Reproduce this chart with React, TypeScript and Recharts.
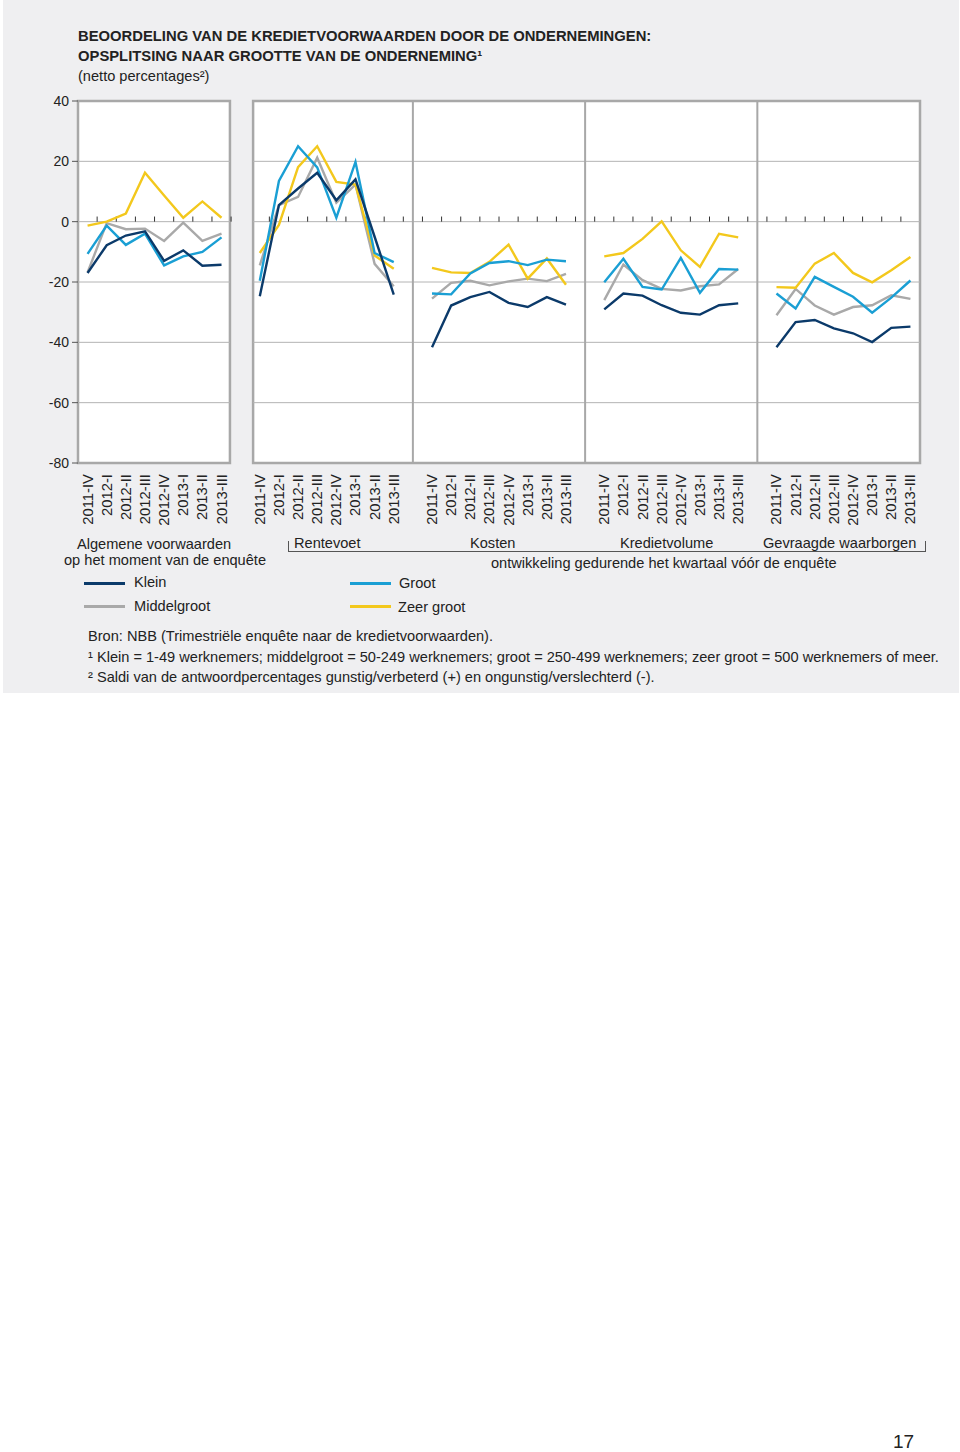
import React from 'react';
import { LineChart, Line, XAxis, YAxis, ReferenceLine, ReferenceArea } from 'recharts';

const quarters = ['2011-IV', '2012-I', '2012-II', '2012-III', '2012-IV', '2013-I', '2013-II', '2013-III'];
const panels = ['Algemene voorwaarden', 'Rentevoet', 'Kosten', 'Kredietvolume', 'Gevraagde waarborgen'];

// one row of 8 quarters per panel
const klein = [
  [-17, -7.8, -4.6, -3.2, -13, -9.5, -14.6, -14.3],
  [-24.7, 5.5, 11, 16.2, 7.1, 14, -5, -24.2],
  [-41.6, -27.8, -25, -23.3, -26.9, -28.3, -25, -27.5],
  [-29.1, -23.8, -24.5, -27.7, -30.2, -30.8, -27.7, -27.1],
  [-41.6, -33.3, -32.6, -35.4, -37, -39.9, -35.2, -34.8],
];
const middelgroot = [
  [-16.8, -0.5, -2.5, -2.3, -6.4, -0.3, -6.4, -4],
  [-14.5, 5.5, 8.2, 21.2, 6.3, 12.3, -14, -21.4],
  [-25.5, -20.3, -19.6, -21.1, -19.8, -18.9, -19.7, -17.3],
  [-26, -14.2, -19.4, -22.3, -22.8, -21.4, -20.8, -15.7],
  [-31, -22.3, -27.8, -30.8, -28.3, -27.7, -24.4, -25.6],
];
const groot = [
  [-10.7, -1.3, -7.7, -4, -14.5, -11.5, -10, -5.2],
  [-19.6, 13.5, 25, 18, 1.3, 19.8, -10.4, -13.4],
  [-23.8, -24.1, -17.2, -13.7, -13.1, -14.4, -12.6, -13.1],
  [-20.1, -12.3, -21.6, -22.5, -12, -23.6, -15.7, -15.9],
  [-23.8, -28.8, -18.3, -21.6, -24.9, -30.2, -25.2, -19.5],
];
const zeerGroot = [
  [-1.3, 0, 2.7, 16.2, 8.7, 1.3, 6.7, 1.3],
  [-10.4, -1.1, 18.1, 25, 13.2, 12.3, -11.2, -15.6],
  [-15.3, -16.8, -17, -13.3, -7.6, -18.9, -12.2, -20.9],
  [-11.5, -10.4, -5.7, 0.1, -9.5, -15, -4, -5.2],
  [-21.7, -21.9, -13.9, -10.4, -17, -20.1, -16.1, -11.7],
];

const yTicks = [-80, -60, -40, -20, 0, 20, 40];
const gridValues = [-60, -40, -20, 0, 20];

const C_KLEIN = '#0b3a6a';
const C_MIDDEL = '#a9a9a9';
const C_GROOT = '#1a9fd4';
const C_ZEER = '#f3c81c';
const BORDER = '#a8a8a8';
const GRID = '#b4b4b4';
const BG = '#efeff1';
const FONT = '"Liberation Sans", Arial, Helvetica, sans-serif';

// 8 quarters per panel with an empty slot between panels
const data: any[] = [];
panels.forEach((_, p) => {
  quarters.forEach((q, i) => {
    data.push({ x: p * 9 + i, q, klein: klein[p][i], middel: middelgroot[p][i], groot: groot[p][i], zeer: zeerGroot[p][i] });
  });
  if (p < panels.length - 1) data.push({ x: p * 9 + 8, q: '', klein: null, middel: null, groot: null, zeer: null });
});
const catTicks = data.filter(d => d.q).map(d => d.x);
const boundaryTicks = data.slice(0, -1).map(d => d.x + 0.5).filter(v => v !== 8.5);
const dividers = [17, 26, 35];
const P1 = [-0.5, 7.44];
const P2 = [8.65, 43.5];

const QuarterTick = ({ x, y, payload }: any) => {
  const row = data.find(d => d.x === payload.value);
  const tx = x + 5;
  const ty = y + 11;
  return (
    <text x={tx} y={ty} transform={`rotate(-90 ${tx} ${ty})`} textAnchor="end" fontSize={14.8} fill="#222" fontFamily={FONT}>
      {row?.q}
    </text>
  );
};

const Txt = ({ left, top, children, style }: any) => (
  <div style={{ position: 'absolute', left, top, whiteSpace: 'nowrap', lineHeight: '18px', fontSize: 14.6, color: '#222', fontFamily: FONT, ...style }}>
    {children}
  </div>
);

const Swatch = ({ left, top, color }: any) => (
  <div style={{ position: 'absolute', left, top, width: 41, height: 3, background: color }} />
);

export default function App() {
  return (
    <div style={{ position: 'absolute', left: 0, top: 0, width: 960, height: 1452, background: '#fff', fontFamily: FONT }}>
      <div style={{ position: 'absolute', left: 3, top: 0, width: 956, height: 693, background: BG }} />

      <Txt left={78} top={27} style={{ fontWeight: 'bold', fontSize: 14.8 }}>BEOORDELING VAN DE KREDIETVOORWAARDEN DOOR DE ONDERNEMINGEN:</Txt>
      <Txt left={78} top={47} style={{ fontWeight: 'bold', fontSize: 14.8 }}>OPSPLITSING NAAR GROOTTE VAN DE ONDERNEMING¹</Txt>
      <Txt left={78} top={67}>(netto percentages²)</Txt>

      <div style={{ position: 'absolute', left: 0, top: 0 }}>
        <LineChart width={960} height={540} data={data} margin={{ top: 101, right: 40, left: 38, bottom: 7 }} style={{ fontFamily: FONT }}>
          <XAxis dataKey="x" type="number" domain={[-0.5, 43.5]} ticks={catTicks} interval={0} axisLine={false} tickLine={false}
            tickSize={0} tickMargin={0} height={70} tick={<QuarterTick />} allowDataOverflow />
          <YAxis type="number" domain={[-80, 40]} ticks={yTicks} width={40} axisLine={false} tickSize={6} tickMargin={3}
            tickLine={{ stroke: '#555' }} tick={{ fill: '#222', fontSize: 14 }} allowDataOverflow />

          <ReferenceArea x1={P1[0]} x2={P1[1]} y1={-80} y2={40} fill="#fff" fillOpacity={1} stroke="none" />
          <ReferenceArea x1={P2[0]} x2={P2[1]} y1={-80} y2={40} fill="#fff" fillOpacity={1} stroke="none" />

          {gridValues.map(v => (
            <ReferenceLine key={`g1-${v}`} segment={[{ x: P1[0], y: v }, { x: P1[1], y: v }]} stroke={GRID} strokeWidth={1} />
          ))}
          {gridValues.map(v => (
            <ReferenceLine key={`g2-${v}`} segment={[{ x: P2[0], y: v }, { x: P2[1], y: v }]} stroke={GRID} strokeWidth={1} />
          ))}
          {boundaryTicks.map(v => (
            <ReferenceLine key={`t-${v}`} segment={[{ x: v, y: 0 }, { x: v, y: 1.7 }]} stroke="#333" strokeWidth={1} />
          ))}
          {dividers.map(v => (
            <ReferenceLine key={`d-${v}`} x={v} stroke={BORDER} strokeWidth={2} />
          ))}

          <Line dataKey="middel" stroke={C_MIDDEL} strokeWidth={2.4} dot={false} connectNulls={false} isAnimationActive={false} />
          <Line dataKey="zeer" stroke={C_ZEER} strokeWidth={2.4} dot={false} connectNulls={false} isAnimationActive={false} />
          <Line dataKey="groot" stroke={C_GROOT} strokeWidth={2.4} dot={false} connectNulls={false} isAnimationActive={false} />
          <Line dataKey="klein" stroke={C_KLEIN} strokeWidth={2.4} dot={false} connectNulls={false} isAnimationActive={false} />

          <ReferenceArea x1={P1[0]} x2={P1[1]} y1={-80} y2={40} fill="none" stroke={BORDER} strokeWidth={2.5} />
          <ReferenceArea x1={P2[0]} x2={P2[1]} y1={-80} y2={40} fill="none" stroke={BORDER} strokeWidth={2.5} />
        </LineChart>
      </div>

      {/* column headers under the panels */}
      <Txt left={77} top={535}>{panels[0]}</Txt>
      <Txt left={64} top={551}>op het moment van de enquête</Txt>
      <div style={{ position: 'absolute', left: 288, top: 551, width: 638, height: 1, background: '#555' }} />
      <div style={{ position: 'absolute', left: 288, top: 541, width: 1, height: 11, background: '#555' }} />
      <div style={{ position: 'absolute', left: 925, top: 541, width: 1, height: 11, background: '#555' }} />
      <Txt left={294} top={534}>{panels[1]}</Txt>
      <Txt left={470} top={534}>{panels[2]}</Txt>
      <Txt left={620} top={534}>{panels[3]}</Txt>
      <Txt left={763} top={534}>{panels[4]}</Txt>
      <Txt left={491} top={554}>ontwikkeling gedurende het kwartaal vóór de enquête</Txt>

      {/* legend */}
      <Swatch left={84} top={582} color={C_KLEIN} />
      <Txt left={134} top={573}>Klein</Txt>
      <Swatch left={84} top={605} color={C_MIDDEL} />
      <Txt left={134} top={597}>Middelgroot</Txt>
      <Swatch left={350} top={582} color={C_GROOT} />
      <Txt left={399} top={574}>Groot</Txt>
      <Swatch left={350} top={605} color={C_ZEER} />
      <Txt left={398} top={598}>Zeer groot</Txt>

      <Txt left={88} top={627}>Bron: NBB (Trimestriële enquête naar de kredietvoorwaarden).</Txt>
      <Txt left={88} top={648}>¹ Klein = 1-49 werknemers; middelgroot = 50-249 werknemers; groot = 250-499 werknemers; zeer groot = 500 werknemers of meer.</Txt>
      <Txt left={88} top={668}>² Saldi van de antwoordpercentages gunstig/verbeterd (+) en ongunstig/verslechterd (-).</Txt>

      <Txt left={893} top={1431} style={{ fontSize: 19, lineHeight: '22px' }}>17</Txt>
    </div>
  );
}
